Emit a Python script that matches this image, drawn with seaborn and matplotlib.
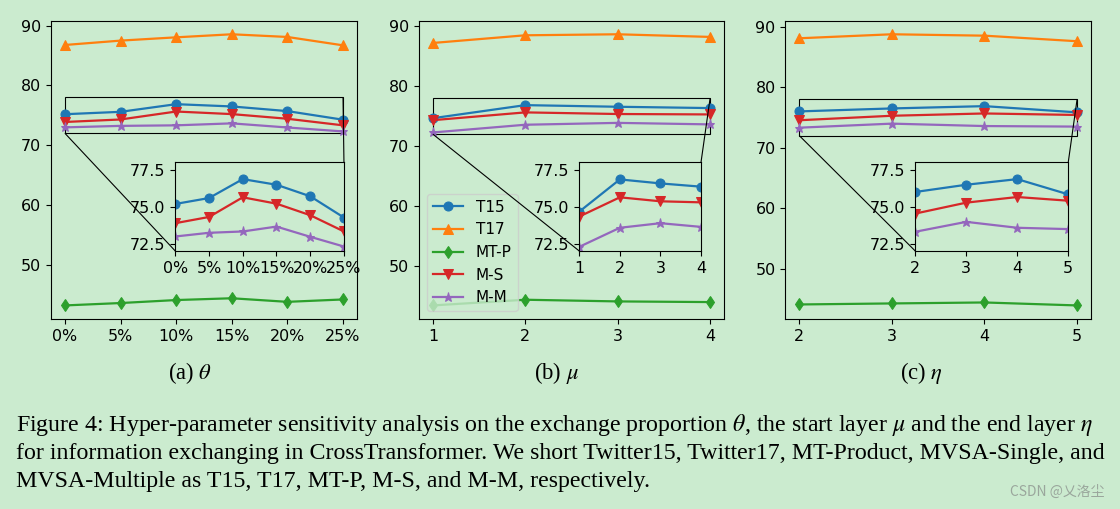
import pandas as pd
import matplotlib
matplotlib.use("Agg")
import matplotlib.pyplot as plt
import seaborn as sns
from mpl_toolkits.axes_grid1.inset_locator import mark_inset

BG = "#cbebcf"
plt.rcParams["font.family"] = ["DejaVu Sans"]
plt.rcParams["mathtext.fontset"] = "stix"
plt.rcParams["font.size"] = 11.4

series = ["T15", "T17", "MT-P", "M-S", "M-M"]
colors = ["#1f77b4", "#ff7f0e", "#2ca02c", "#d62728", "#9467bd"]
markers = ["o", "^", "d", "v", "*"]

# (a) exchange proportion theta (%)
theta_x = [0, 5, 10, 15, 20, 25]
theta_t15 = [75.18, 75.58, 76.86, 76.48, 75.70, 74.26]
theta_t17 = [86.76, 87.49, 88.04, 88.55, 88.10, 86.70]
theta_mtp = [43.20, 43.60, 44.10, 44.40, 43.80, 44.20]
theta_ms = [73.88, 74.30, 75.63, 75.20, 74.42, 73.32]
theta_mm = [72.98, 73.23, 73.32, 73.65, 72.96, 72.30]

# (b) start layer mu
mu_x = [1, 2, 3, 4]
mu_t15 = [74.66, 76.84, 76.57, 76.35]
mu_t17 = [87.21, 88.49, 88.66, 88.22]
mu_mtp = [43.43, 44.38, 44.10, 43.99]
mu_ms = [74.33, 75.63, 75.36, 75.29]
mu_mm = [72.28, 73.57, 73.88, 73.63]

# (c) end layer eta
eta_x = [2, 3, 4, 5]
eta_t15 = [75.99, 76.48, 76.86, 75.83]
eta_t17 = [88.07, 88.73, 88.50, 87.58]
eta_mtp = [44.10, 44.27, 44.43, 43.94]
eta_ms = [74.53, 75.27, 75.65, 75.40]
eta_mm = [73.30, 73.97, 73.57, 73.48]

theta_labels = ["0%", "5%", "10%", "15%", "20%", "25%"]


def to_long(x, cols):
    rows = []
    for name, vals in zip(series, cols):
        for xi, yi in zip(x, vals):
            rows.append({"x": xi, "y": yi, "series": name})
    return pd.DataFrame(rows)


def draw(fig, ax_rect, ins_rect, x, cols, ticklabels, legend):
    df = to_long(x, cols)
    kw = dict(data=df, x="x", y="y", hue="series", style="series",
              palette=dict(zip(series, colors)),
              markers=dict(zip(series, markers)), dashes=False,
              markersize=6.5, linewidth=1.6, markeredgecolor=None)
    ax = fig.add_axes(ax_rect)
    ax.set_facecolor("none")
    sns.lineplot(ax=ax, legend=legend, **kw)
    ax.set(xlabel="", ylabel="")
    ax.set_xticks(x)
    ax.set_xticklabels(ticklabels)
    ax.set_yticks([50, 60, 70, 80, 90])

    axins = fig.add_axes(ins_rect)
    axins.set_facecolor(BG)
    sns.lineplot(ax=axins, legend=False, **kw)
    axins.set(xlabel="", ylabel="")
    axins.set_xlim(x[0], x[-1])
    axins.set_ylim(72, 78)
    axins.set_xticks(x)
    axins.set_xticklabels(ticklabels)
    axins.set_yticks([72.5, 75.0, 77.5])
    mark_inset(ax, axins, loc1=3, loc2=1, fc="none", ec="k", lw=0.8)

    if legend:
        sns.move_legend(ax, "lower left", title=None, frameon=True,
                        facecolor=BG, framealpha=0.8, fontsize=11)
    return ax


fig = plt.figure(figsize=(11.2, 5.09), dpi=100, facecolor=BG)

draw(fig, [0.0455, 0.3733, 0.2732, 0.586], [0.1565, 0.5069, 0.1506, 0.1743],
     theta_x, [theta_t15, theta_t17, theta_mtp, theta_ms, theta_mm],
     theta_labels, False)
draw(fig, [0.3741, 0.3733, 0.2723, 0.586], [0.5172, 0.5069, 0.1087, 0.1743],
     mu_x, [mu_t15, mu_t17, mu_mtp, mu_ms, mu_mm],
     [str(v) for v in mu_x], True)
draw(fig, [0.7012, 0.3733, 0.2729, 0.586], [0.8172, 0.5069, 0.1366, 0.1743],
     eta_x, [eta_t15, eta_t17, eta_mtp, eta_ms, eta_mm],
     [str(v) for v in eta_x], False)

serif = "Liberation Serif"
for xc, txt in [(190, r"(a) $\theta$"), (556, r"(b) $\mu$"), (921, r"(c) $\eta$")]:
    fig.text(xc / 1120, 1 - 373 / 509, txt, ha="center", va="center",
             family=serif, fontsize=16.3)

caption = [
    r"Figure 4: Hyper-parameter sensitivity analysis on the exchange proportion $\theta$, the start layer $\mu$ and the end layer $\eta$",
    "for information exchanging in CrossTransformer. We short Twitter15, Twitter17, MT-Product, MVSA-Single, and",
    "MVSA-Multiple as T15, T17, MT-P, M-S, and M-M, respectively.",
]
for yc, line in zip([425, 453, 482], caption):
    fig.text(16 / 1120, 1 - yc / 509, line, ha="left", va="center",
             family=serif, fontsize=17.2)

fig.text(1104 / 1120, 1 - 492 / 509, "CSDN @乂洛尘", ha="right", va="center",
         color="#9aa69c", fontsize=10, family=["Noto Sans CJK SC", "DejaVu Sans"])

fig.savefig("out.png", dpi=100, facecolor=BG)
